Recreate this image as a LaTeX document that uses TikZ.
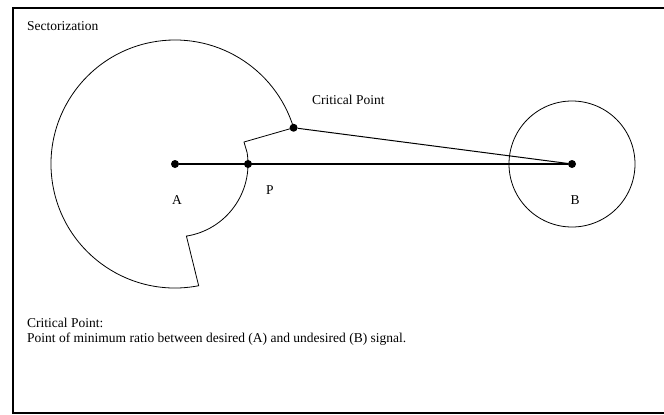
\documentclass[tikz,border=0pt]{standalone}
\usepackage{fontspec}
\setmainfont{Liberation Serif}
\usetikzlibrary{calc}
\begin{document}
\begin{tikzpicture}[x=1pt,y=1pt,
  dot/.style={circle,fill=black,inner sep=0pt,minimum size=8pt},
  lbl/.style={inner sep=0pt,font=\fontsize{13.5}{16}\selectfont},
  thin line/.style={line width=0.8pt},
  frame/.style={line width=2.5pt,line cap=rect}]
\useasboundingbox (0,0) rectangle (664,-415);
% frame (cropped on the right)
\draw[frame] (680,-8) -- (13,-8) -- (13,-413) -- (680,-413);
% key points
\coordinate (Ac) at (175,-164);
\node[dot] (A) at (Ac) {};
\node[dot] (P) at ($(Ac)+(0:73)$) {};
\node[dot] (C) at ($(Ac)+(17:124)$) {};
\node[dot] (B) at (572,-164) {};
\coordinate (K1) at (244,-142);
\coordinate (K2) at ($(Ac)+(9:73)$);
\coordinate (I2) at ($(Ac)+(-81:73)$);
\coordinate (O1) at ($(Ac)+(-79:124)$);
% sector outline
\draw[thin line,line join=miter] (C.center) -- (K1) -- (K2)
  arc[start angle=9,end angle=-81,radius=73] -- (O1)
  arc[start angle=-79,end angle=-343,radius=124];
% circle around B
\draw[thin line] (B.center) circle[radius=63];
% connectors
\draw[line width=1.5pt] (A) -- (B);
\draw[line width=1pt] (C) -- (B);
% labels
\node[lbl,anchor=base west] (t1) at (27,-30) {Sectorization};
\node[lbl,anchor=base west] (t2) at (312,-104) {Critical Point};
\node[lbl] (la) at (177,-200) {A};
\node[lbl] (lp) at (270,-190) {P};
\node[lbl] (lb) at (575,-200) {B};
\node[lbl,anchor=base west] (t3) at (27,-327) {Critical Point:};
\node[lbl,anchor=base west] (t4) at (27,-342) {Point of minimum ratio between desired (A) and undesired (B) signal.};
\end{tikzpicture}
\end{document}
